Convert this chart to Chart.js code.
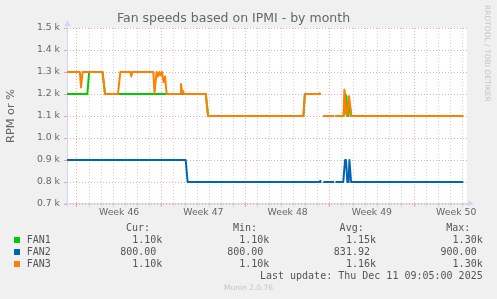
<!DOCTYPE html>
<html><head><meta charset="utf-8">
<script src="https://cdn.jsdelivr.net/npm/chart.js@4/dist/chart.umd.min.js"></script>
<style>
html,body{margin:0;padding:0;background:#f0f0f0;}
#wrap{position:relative;width:497px;height:299px;overflow:hidden;background:#f0f0f0;}
canvas{position:absolute;left:0;top:0;}
.m{position:absolute;white-space:pre;font-family:"DejaVu Sans Mono",monospace;font-size:10px;line-height:12px;color:#555;}
.sq{position:absolute;width:6px;height:6px;}
.side{position:absolute;left:483px;top:5px;writing-mode:vertical-rl;font-family:"DejaVu Sans",sans-serif;font-size:7.5px;line-height:9px;color:#c4c4c4;white-space:pre;}
.munin{position:absolute;left:0;width:497px;top:283px;text-align:center;font-family:"DejaVu Sans",sans-serif;font-size:7.5px;line-height:10px;color:#c4c4c4;}
</style></head><body>
<div id="wrap"><canvas id="c" width="497" height="299"></canvas></div>
<script>
// ---- data (x = days since start of the 33-day window) ----
const weekLabels = ['Week 46','Week 47','Week 48','Week 49','Week 50'];
const yTickValues = [700,800,900,1000,1100,1200,1300,1400,1500];

const fan1Days = [0,1.69,1.84,2.95,3.16,11.53,11.72,19.64,19.76,21.06,21.17,21.29,22.19,22.25,22.30,22.98,23.06,23.14,23.22,23.30,23.38,23.45,23.53,23.62,32.92];
const fan1Rpm  = [1200,1200,1300,1300,1200,1200,1100,1100,1200,1200,null,1100,1100,null,1100,1100,1180,1195,1190,1100,1100,1150,1135,1100,1100];

const fan2Days = [0,9.86,10.02,21.01,21.04,21.06,21.17,21.29,22.19,22.25,22.30,22.95,23.10,23.18,23.29,23.39,23.46,23.60,32.92];
const fan2Rpm  = [900,900,800,800,805,800,null,800,800,null,800,800,900,900,800,800,900,800,800];

const fan3Days = [0,1.07,1.16,1.30,2.95,3.16,4.23,4.43,5.26,5.34,5.42,7.17,7.27,7.44,7.56,7.67,7.77,7.89,8.02,8.14,8.28,9.39,9.47,9.55,9.62,9.72,11.53,11.72,19.64,19.76,20.96,21.01,21.06,21.17,21.29,22.19,22.25,22.30,22.98,23.04,23.10,23.18,23.27,23.35,23.43,23.52,23.60,32.92];
const fan3Rpm  = [1300,1300,1230,1300,1300,1200,1200,1300,1300,1280,1300,1300,1205,1300,1280,1300,1285,1300,1255,1280,1200,1200,1245,1210,1215,1200,1200,1100,1100,1200,1200,1203,1205,null,1100,1100,null,1100,1100,1220,1200,1110,1100,1140,1190,1150,1100,1100];

const seriesNames = ['FAN1','FAN2','FAN3'];
const statHeaders = ['Cur:','Min:','Avg:','Max:'];
const statCur = ['1.10k','800.00 ','1.10k'];
const statMin = ['1.10k','800.00 ','1.10k'];
const statAvg = ['1.15k','831.92 ','1.16k'];
const statMax = ['1.30k','900.00 ','1.30k'];
const lastUpdate = 'Last update: Thu Dec 11 09:05:00 2025';

// ---- styling / layout ----
const COLORS = ['#00cc00','#0066b3','#ff8000'];
const X_MAX = 33.23;      // visible span in days
const WEEK0 = 0.83;       // first Monday 00:00 within window (days)
const MGRID = 'rgba(225,90,90,0.5)';
const GRID = '#d4d4d4';
const AXIS = '#cfd6f8';
const FONT = '#666666';

const weekPos = weekLabels.map((_, i) => WEEK0 + 3.5 + 7 * i);
const isLabelPos = v => weekPos.some(p => Math.abs(p - v) < 1e-6);

const pts = (d, v) => d.map((x, i) => ({x, y: v[i]}));

const bgPlugin = {
  id: 'bg',
  beforeDraw(chart) {
    const {ctx, chartArea: a} = chart;
    ctx.save();
    ctx.fillStyle = '#f0f0f0';
    ctx.fillRect(0, 0, chart.width, chart.height);
    ctx.fillStyle = '#ffffff';
    ctx.fillRect(a.left, a.top, a.right - a.left, a.bottom - a.top);
    ctx.restore();
  },
  beforeDatasetsDraw(chart) {
    const {ctx, chartArea: a} = chart;
    const L = Math.round(a.left) + 0.5, B = Math.round(a.bottom) - 0.5;
    ctx.save();
    ctx.strokeStyle = AXIS; ctx.fillStyle = AXIS; ctx.lineWidth = 1;
    ctx.beginPath();
    ctx.moveTo(L, B + 3); ctx.lineTo(L, a.top - 3);
    ctx.moveTo(L - 3, B); ctx.lineTo(a.right + 3, B);
    ctx.stroke();
    ctx.beginPath();
    ctx.moveTo(L - 3, a.top - 2); ctx.lineTo(L + 3, a.top - 2); ctx.lineTo(L, a.top - 8); ctx.closePath();
    ctx.fill();
    ctx.beginPath();
    ctx.moveTo(a.right + 1, B - 3); ctx.lineTo(a.right + 1, B + 3); ctx.lineTo(a.right + 7, B); ctx.closePath();
    ctx.fill();
    ctx.restore();
  }
};

new Chart(document.getElementById('c'), {
  type: 'line',
  data: {
    datasets: [
      {label: seriesNames[0], data: pts(fan1Days, fan1Rpm), borderColor: COLORS[0], order: 2},
      {label: seriesNames[1], data: pts(fan2Days, fan2Rpm), borderColor: COLORS[1], order: 1},
      {label: seriesNames[2], data: pts(fan3Days, fan3Rpm), borderColor: COLORS[2], order: 0}
    ]
  },
  options: {
    responsive: false,
    animation: false,
    devicePixelRatio: 1,
    elements: {
      line: {borderWidth: 2, tension: 0, fill: false, borderJoinStyle: 'round', borderCapStyle: 'butt'},
      point: {radius: 0, hoverRadius: 0}
    },
    layout: {padding: {left: 0, right: 30, top: 0, bottom: 75}},
    plugins: {
      legend: {display: false},
      tooltip: {enabled: false},
      title: {
        display: true,
        text: 'Fan speeds based on IPMI - by month',
        color: FONT,
        font: {family: 'DejaVu Sans', size: 12.5, weight: 'normal'},
        padding: {top: 11.5, bottom: 1.5}
      }
    },
    scales: {
      x: {
        type: 'linear',
        min: 0, max: X_MAX,
        afterBuildTicks(scale) {
          const t = [];
          for (let n = 0; WEEK0 + n <= X_MAX; n++) t.push({value: WEEK0 + n});
          weekPos.forEach(p => t.push({value: p}));
          t.sort((a, b) => a.value - b.value);
          scale.ticks = t;
        },
        afterFit(scale) { scale.height = 20; scale.paddingLeft = 0; scale.paddingRight = 0; },
        ticks: {
          autoSkip: false, maxRotation: 0, padding: 0,
          color: FONT,
          font: {family: 'DejaVu Sans', size: 9.3},
          callback(v) { const i = weekPos.findIndex(p => Math.abs(p - v) < 1e-6); return i >= 0 ? weekLabels[i] : ''; }
        },
        grid: {
          tickLength: 3,
          color(ctx) {
            const v = ctx.tick ? ctx.tick.value : 0;
            if (isLabelPos(v)) return 'rgba(0,0,0,0)';
            const n = Math.round(v - WEEK0);
            return n % 7 === 0 ? MGRID : GRID;
          }
        },
        border: {display: false, dash: [1, 2]}
      },
      y: {
        type: 'linear',
        min: 700, max: 1500,
        afterBuildTicks(scale) { scale.ticks = yTickValues.map(v => ({value: v})); },
        afterFit(scale) { scale.width = 67; scale.paddingTop = 0; scale.paddingBottom = 0; },
        ticks: {
          padding: 4,
          color: FONT,
          font: {family: 'DejaVu Sans', size: 9.3},
          callback: v => (v / 1000).toFixed(1) + ' k'
        },
        title: {
          display: true, text: 'RPM or %', color: FONT,
          font: {family: 'DejaVu Sans', size: 11.3, weight: 'normal'},
          padding: {top: 4, bottom: 0}
        },
        grid: {tickLength: 3, color: MGRID},
        border: {display: false, dash: [1, 2]}
      }
    }
  },
  plugins: [bgPlugin]
});

// ---- legend / footer as text ----
const wrap = document.getElementById('wrap');
function addText(txt, cls, css) {
  const d = document.createElement('div');
  d.className = cls; d.textContent = txt;
  Object.assign(d.style, css);
  wrap.appendChild(d); return d;
}
const colRight = [162.3, 269.3, 376, 482.7];
const rowTop = [233.5, 245.9, 258.4];
statHeaders.forEach((h, j) => addText(h, 'm', {right: (497 - colRight[j] + 12.3) + 'px', top: '222.2px', textAlign: 'right'}));
const cols = [statCur, statMin, statAvg, statMax];
seriesNames.forEach((name, i) => {
  const sq = document.createElement('div');
  sq.className = 'sq';
  Object.assign(sq.style, {left: '14px', top: (rowTop[i] + 3) + 'px', background: COLORS[i]});
  wrap.appendChild(sq);
  addText(name, 'm', {left: '26.7px', top: rowTop[i] + 'px'});
  cols.forEach((c, j) => addText(c[i], 'm', {right: (497 - colRight[j]) + 'px', top: rowTop[i] + 'px', textAlign: 'right'}));
});
addText(lastUpdate, 'm', {right: (497 - 482.7) + 'px', top: '269.5px', textAlign: 'right'});
addText('RRDTOOL / TOBI OETIKER', 'side', {});
addText('Munin 2.0.76', 'munin', {});
</script>
</body></html>
